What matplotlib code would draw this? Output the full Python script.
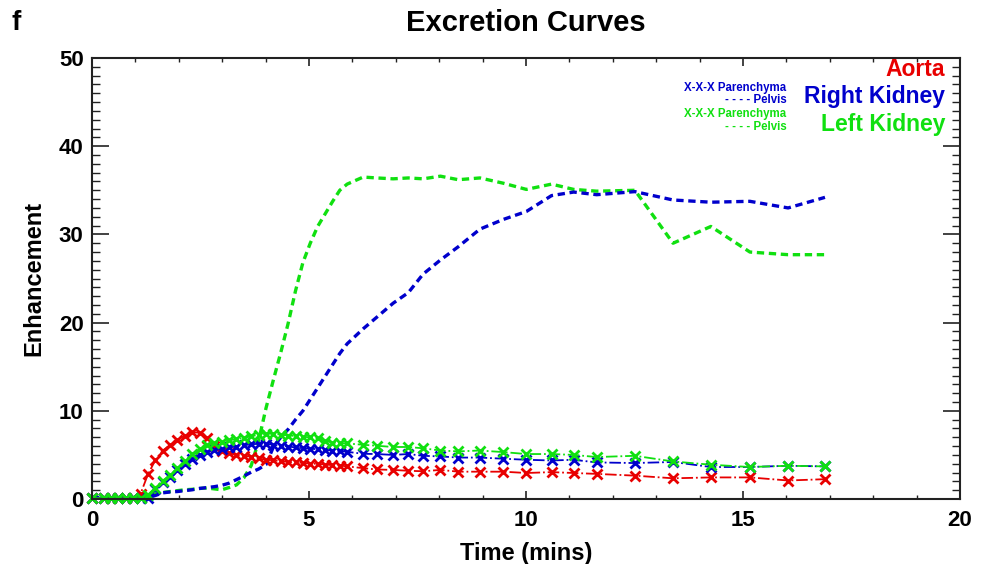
import matplotlib
matplotlib.use("Agg")
import matplotlib.pyplot as plt
from matplotlib.ticker import MultipleLocator

plt.rcParams['font.family'] = ['Liberation Sans', 'DejaVu Sans']
plt.rcParams['font.weight'] = 'bold'

# sample times (mins)
time = [0.00, 0.27, 0.44, 0.61, 0.78, 0.95, 1.12, 1.29, 1.46, 1.63,
        1.80, 1.97, 2.14, 2.31, 2.48, 2.65, 2.82, 2.99, 3.16, 3.33,
        3.50, 3.67, 3.84, 4.01, 4.18, 4.35, 4.52, 4.69, 4.86, 5.03,
        5.20, 5.37, 5.54, 5.71, 5.88, 6.25, 6.56, 6.94, 7.29, 7.63,
        8.03, 8.44, 8.94, 9.48, 10.01, 10.59, 11.10, 11.63, 12.51, 13.39,
        14.26, 15.16, 16.04, 16.89]

aorta = [0.1, 0.1, 0.1, 0.1, 0.1, 0.1, 0.6, 2.8, 4.4, 5.5,
         6.1, 6.7, 7.2, 7.6, 7.5, 6.9, 6.0, 5.4, 5.2, 5.0,
         4.9, 4.8, 4.6, 4.45, 4.4, 4.3, 4.2, 4.15, 4.1, 4.0,
         4.0, 3.9, 3.85, 3.8, 3.7, 3.5, 3.35, 3.3, 3.2, 3.15,
         3.3, 3.1, 3.1, 3.1, 2.95, 3.05, 2.95, 2.85, 2.65, 2.35,
         2.45, 2.45, 2.1, 2.25]

right_par = [0.1, 0.1, 0.1, 0.1, 0.1, 0.1, 0.1, 0.1, 1.1, 1.9,
             2.55, 3.3, 4.0, 4.55, 5.0, 5.35, 5.55, 5.65, 5.85, 5.95,
             6.1, 6.2, 6.27, 6.27, 6.15, 6.05, 5.95, 5.85, 5.75, 5.7,
             5.65, 5.55, 5.5, 5.45, 5.35, 5.13, 5.1, 5.0, 5.1, 4.9,
             4.83, 4.7, 4.7, 4.57, 4.45, 4.37, 4.45, 4.15, 4.08, 4.2,
             3.63, 3.63, 3.77, 3.7]

right_pel = [0.15, 0.15, 0.15, 0.15, 0.15, 0.15, 0.15, 0.15, 0.4, 0.7,
             0.8, 0.85, 0.95, 1.05, 1.2, 1.3, 1.4, 1.55, 1.8, 2.2,
             2.6, 3.05, 3.4, 3.9, 5.9, 7.0, 7.9, 9.0, 10.0, 11.3,
             12.6, 13.9, 15.2, 16.5, 17.6, 19.3, 20.6, 22.2, 23.4, 25.5,
             27.1, 28.6, 30.6, 31.7, 32.6, 34.4, 34.8, 34.5, 34.85, 33.9,
             33.65, 33.75, 33.0, 34.2]

left_par = [0.1, 0.1, 0.1, 0.1, 0.1, 0.1, 0.1, 0.5, 1.3, 2.1,
            2.7, 3.5, 4.3, 5.1, 5.7, 6.1, 6.3, 6.45, 6.65, 6.8,
            6.95, 7.1, 7.3, 7.4, 7.4, 7.3, 7.2, 7.15, 7.05, 7.0,
            6.9, 6.6, 6.4, 6.35, 6.3, 6.15, 6.04, 5.9, 5.9, 5.75,
            5.5, 5.4, 5.5, 5.32, 5.1, 5.1, 5.0, 4.76, 4.9, 4.26,
            3.89, 3.63, 3.77, 3.7]

left_pel = [0.2, 0.2, 0.2, 0.2, 0.2, 0.2, 0.3, 0.4, 0.6, 0.75,
            0.85, 0.95, 1.05, 1.1, 1.2, 1.25, 1.15, 1.05, 1.3, 1.6,
            2.4, 3.8, 6.6, 10.3, 13.5, 16.6, 19.9, 23.6, 26.8, 29.0,
            30.9, 32.3, 33.7, 35.0, 35.7, 36.5, 36.4, 36.3, 36.4, 36.3,
            36.6, 36.2, 36.4, 35.8, 35.1, 35.7, 35.1, 34.9, 35.0, 29.0,
            30.9, 28.0, 27.7, 27.7]

RED = '#E80000'
BLUE = '#0000CC'
GREEN = '#10E010'

fig = plt.figure(figsize=(9.92, 5.64), dpi=100)
ax = fig.add_axes([0.0927, 0.1152, 0.875, 0.782])

# pelvis curves (dashed)
ax.plot(time, left_pel, color=GREEN, lw=2.4, dashes=(2.2, 1.4), clip_on=False)
ax.plot(time, right_pel, color=BLUE, lw=2.4, dashes=(2.2, 1.4), clip_on=False)

# parenchyma + aorta (dash-dot with x markers)
for vals, c in [(aorta, RED), (right_par, BLUE), (left_par, GREEN)]:
    ax.plot(time, vals, color=c, lw=1.3, ls='-.', marker='x', ms=6.5, mew=2,
            clip_on=False)

ax.set_xlim(0, 20)
ax.set_ylim(0, 50)
ax.xaxis.set_major_locator(MultipleLocator(5))
ax.xaxis.set_minor_locator(MultipleLocator(1))
ax.yaxis.set_major_locator(MultipleLocator(10))
ax.yaxis.set_minor_locator(MultipleLocator(1))
ax.tick_params(axis='x', which='major', direction='in', length=6, width=1.2,
               top=True, labelsize=16, pad=8, color='#222222')
ax.tick_params(axis='x', which='minor', direction='in', length=3, width=1.0,
               top=True, color='#222222')
ax.tick_params(axis='y', which='major', direction='in', length=12, width=1.2,
               right=True, labelsize=16, pad=6, color='#222222')
ax.tick_params(axis='y', which='minor', direction='in', length=6, width=1.0,
               right=True, color='#222222')
for s in ax.spines.values():
    s.set_linewidth(1.5)
    s.set_color('#222222')

ax.set_xlabel('Time (mins)', fontsize=17, fontweight='bold', labelpad=8)
ax.set_ylabel('Enhancement', fontsize=17, fontweight='bold', labelpad=10)
fig.text(0.53, 0.960, 'Excretion Curves', ha='center', va='center',
         fontsize=21, fontweight='bold')
fig.text(0.012, 0.960, 'f', ha='left', va='center', fontsize=20,
         fontweight='bold')

# legend text
ax.text(0.983, 0.973, 'Aorta', color=RED, ha='right', va='center',
        fontsize=16.5, fontweight='bold', transform=ax.transAxes)
ax.text(0.983, 0.912, 'Right Kidney', color=BLUE, ha='right', va='center',
        fontsize=16.5, fontweight='bold', transform=ax.transAxes)
ax.text(0.983, 0.850, 'Left Kidney', color=GREEN, ha='right', va='center',
        fontsize=16.5, fontweight='bold', transform=ax.transAxes)
small = [('X-X-X Parenchyma', BLUE, 0.932), ('- - - - Pelvis', BLUE, 0.905),
         ('X-X-X Parenchyma', GREEN, 0.873), ('- - - - Pelvis', GREEN, 0.844)]
for txt, c, y in small:
    ax.text(0.80, y, txt, color=c, ha='right', va='center', fontsize=8.3,
            fontweight='bold', transform=ax.transAxes)

fig.savefig('out.png', dpi=100)
